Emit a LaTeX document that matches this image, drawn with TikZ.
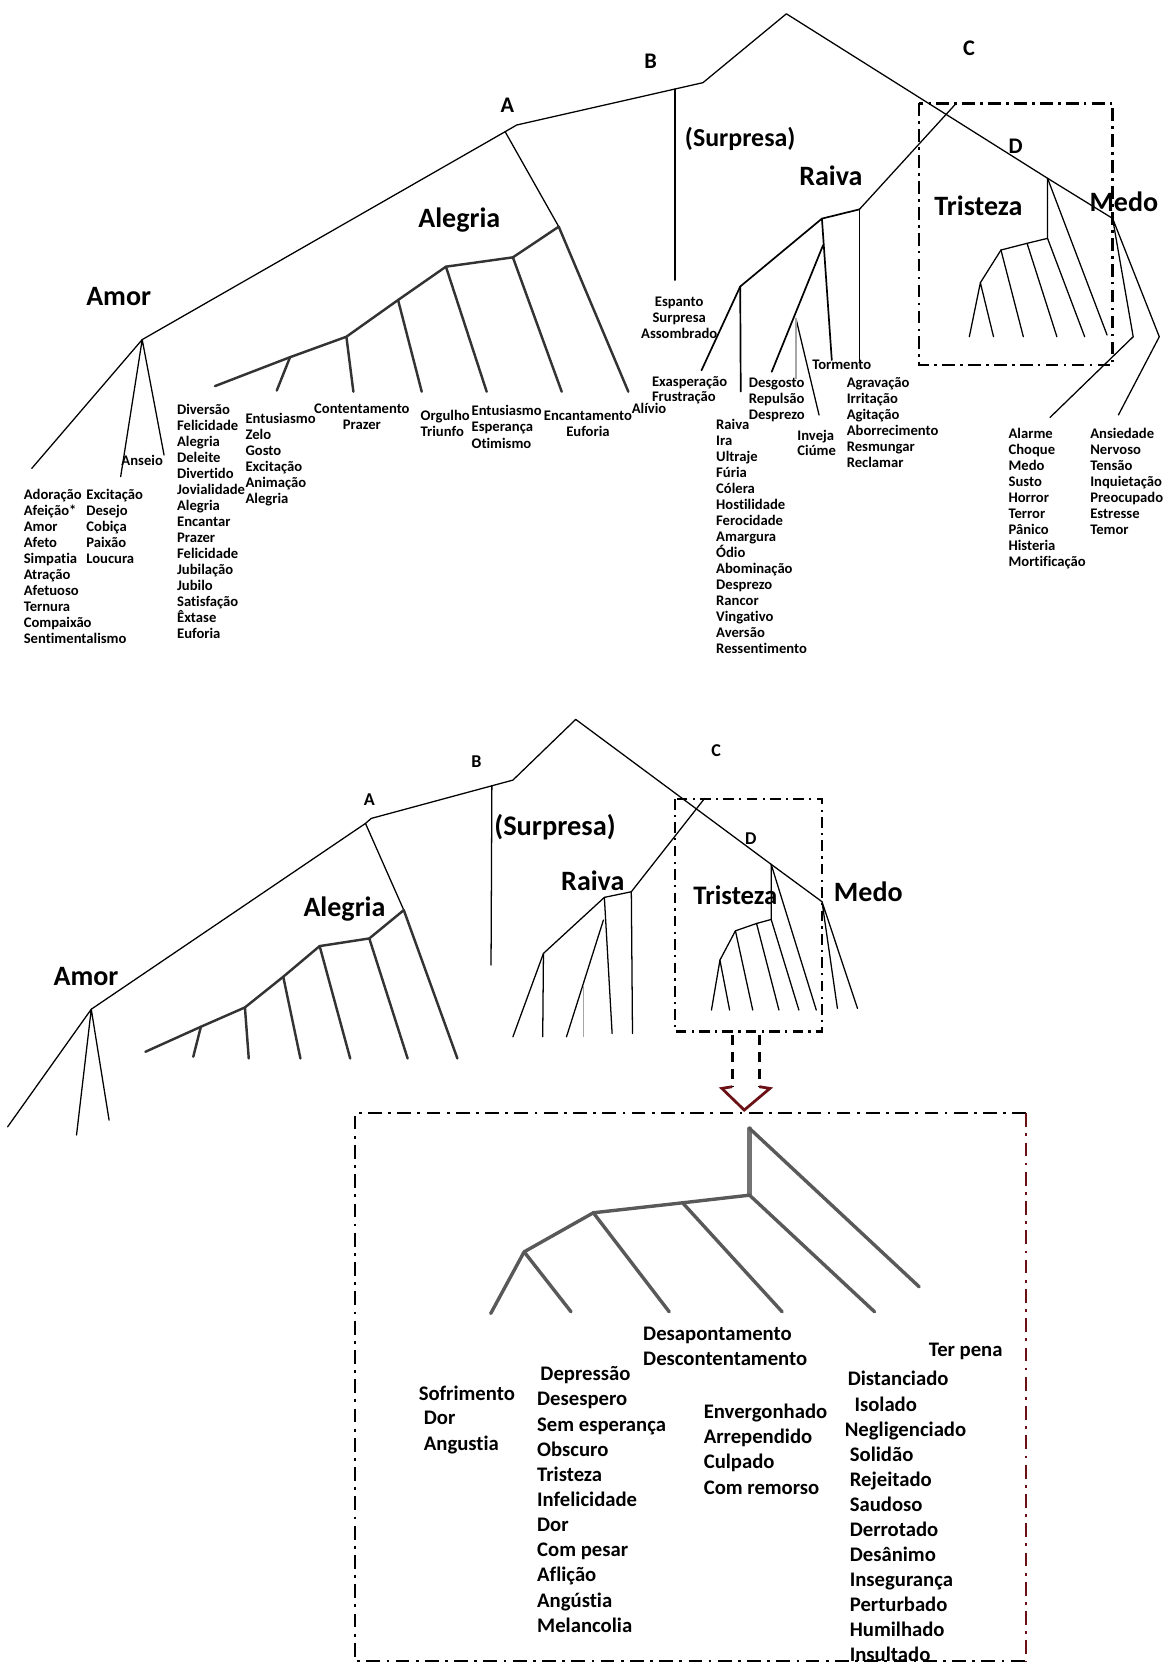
\documentclass[tikz,border=0pt]{standalone}
\usepackage{fontspec}
\setmainfont{Carlito}[Ligatures=NoCommon]
% a column of words, one node per line
\newcommand\wordcol[6]{%
  \foreach \w [count=\i from 0] in {#6}{%
    \node[anchor=base west,#1] (#2-\i) at (#3,{#4+\i*(#5)}) {\w};}}
\definecolor{darkmaroon}{HTML}{6B1014}
\begin{document}
\begin{tikzpicture}[x=0.5pt,y=-0.5pt,
  tree/.style={line width=0.6pt, line cap=round, line join=round},
  twig/.style={line width=1.15pt, black!80, line cap=round, line join=round},
  rtwig/.style={line width=0.8pt, line cap=round, line join=round},
  ghost/.style={line width=0.6pt, black!35},
  btwig/.style={line width=1.6pt, black!65, line cap=round, line join=round},
  frame/.style={line width=1.3pt, dash pattern=on 6pt off 2.5pt on 1.2pt off 2.5pt},
  sframe/.style={line width=1.3pt, dash pattern=on 5pt off 2.5pt on 1pt off 2.5pt},
  bframe/.style={line width=1.1pt, dash pattern=on 6.5pt off 3pt on 1.3pt off 3pt},
  lst/.style={font=\bfseries\fontsize{6.9}{8}\selectfont, inner sep=0pt},
  big/.style={font=\bfseries\fontsize{9.75}{11}\selectfont, inner sep=0pt},
  grp/.style={font=\bfseries\fontsize{13.2}{15}\selectfont, inner sep=0pt, anchor=base},
  ltr/.style={font=\bfseries\fontsize{10.5}{12}\selectfont, inner sep=0pt, anchor=base},
  sltr/.style={font=\bfseries\fontsize{8.5}{10}\selectfont, inner sep=0pt, anchor=base}]
\useasboundingbox[fill=white] (0,0) rectangle (1097,1568);

%% ================= upper tree =================
\coordinate (ta) at (741,13);
\coordinate (tb) at (662.4,77.9);
\coordinate (tbs) at (636,83.9);
\coordinate (tbe) at (636,264);
\coordinate (taa) at (486.9,117.8);
\coordinate (ta0) at (476,124.1);
\coordinate (tam) at (134,320);
\coordinate (ttri) at (987.1,168);
\coordinate (tmd) at (1048.4,205.8);
\draw[tree] (tam) -- (ta0) -- (taa) -- (tb) -- (ta) -- (ttri) -- (tmd);
\draw[tree] (tbs) -- (tbe);
% Amor
\coordinate (tam1) at (29.9,441.4);
\coordinate (tam2) at (113.7,449.2);
\coordinate (tam3) at (154.6,428.8);
\draw[tree] (tam) -- (tam1) (tam) -- (tam2) (tam) -- (tam3);
% Alegria
\coordinate (tal0) at (526.5,213.6);
\coordinate (tal1) at (483.3,242.5);
\coordinate (tal2) at (420.2,251.3);
\coordinate (tal3) at (375.1,282.7);
\coordinate (tal4) at (326.4,317.3);
\coordinate (tal5) at (273.3,336.6);
\coordinate (tal6) at (202.6,363.8);
\draw[tree] (ta0) -- (tal0);
\draw[twig] (tal0) -- (tal1) -- (tal2) -- (tal3) -- (tal4) -- (tal5) -- (tal6);
\coordinate (tle0) at (592.1,369.1);
\coordinate (tle1) at (529.3,369.1);
\coordinate (tle2) at (458.6,369.1);
\coordinate (tle3) at (397.4,369.1);
\coordinate (tle4) at (333,369.1);
\coordinate (tle5) at (260.8,368);
\foreach \k in {0,...,5} \draw[twig] (tal\k) -- (tle\k);
% Raiva
\coordinate (trt) at (901,97.4);
\coordinate (tr0) at (809.8,197.3);
\coordinate (tr1) at (774.5,206);
\coordinate (tr2) at (697.5,270);
\coordinate (tr1s) at (775.6,231);
\coordinate (tr3) at (750,300);
\coordinate (tre1) at (661,349);
\coordinate (tre2) at (698,369);
\coordinate (tre3) at (727.2,350.3);
\coordinate (tre4) at (771.8,391.1);
\coordinate (tre5) at (750,357);
\coordinate (tre6) at (783.8,339.3);
\coordinate (tre7) at (809.8,340.8);
\draw[tree] (trt) -- (tr0);
\draw[rtwig] (tr0) -- (tr1) -- (tr2) -- (tre1);
\draw[rtwig] (tr2) -- (tre2);
\draw[rtwig] (tr1) -- (tre6);
\draw[rtwig] (tr1s) -- (tre3);
\draw[tree] (tr3) -- (tre4);
\draw[ghost] (tr3) -- (tre5);
\draw[rtwig] (tr0) -- (tre7);
% Tristeza
\coordinate (ttr0) at (987.1,224.6);
\coordinate (ttr1) at (967.8,229.3);
\coordinate (ttr2) at (943.2,235.6);
\coordinate (ttr3) at (923.8,266.4);
\coordinate (tte0) at (1043.2,315.7);
\coordinate (tte1) at (1022.1,317.3);
\coordinate (tte2) at (995.9,317.3);
\coordinate (tte3) at (964.3,317.3);
\coordinate (tte4) at (936.2,317.3);
\coordinate (tte5) at (913.4,317.3);
\draw[tree] (ttri) -- (ttr0) -- (ttr1) -- (ttr2) -- (ttr3);
\draw[tree] (ttri) -- (tte0) (ttr0) -- (tte1) (ttr1) -- (tte2) (ttr2) -- (tte3) (ttr3) -- (tte4) (ttr3) -- (tte5);
% Medo
\coordinate (tme1) at (1067.8,317.3);
\coordinate (tme2) at (1092.4,317.3);
\coordinate (tmc1) at (989.5,393.3);
\coordinate (tmc2) at (1053.9,391);
\draw[tree] (tmd) -- (tme1) (tmd) -- (tme2);
\draw[tree] (tme1) -- (tmc1) (tme2) -- (tmc2);
% frame round Tristeza
\draw[frame] (866,97.4) rectangle (1048.4,344);

% group labels
\node[grp] (uAmor) at (111.8,287.6) {Amor};
\node[grp] (uAlegria) at (432.8,214.5) {Alegria};
\node[grp,font=\bfseries\fontsize{12.2}{14}\selectfont] (uSurpresa) at (697.5,138) {(Surpresa)};
\node[grp] (uRaiva) at (783,174.5) {Raiva};
\node[grp] (uTristeza) at (922,203) {Tristeza};
\node[grp] (uMedo) at (1059,199.5) {Medo};
\node[ltr] (uA) at (478,105.7) {A};
\node[ltr] (uB) at (613,64.5) {B};
\node[ltr] (uC) at (913,52) {C};
\node[ltr] (uD) at (957,145) {D};

% word lists
\wordcol{lst}{amA}{22}{470.5}{15.1}{Adoração,Afeição*,Amor,Afeto,Simpatia,Atração,Afetuoso,Ternura,Compaixão,Sentimentalismo}
\wordcol{lst}{amB}{81}{470.5}{15.1}{Excitação,Desejo,Cobiça,Paixão,Loucura}
\node[lst,anchor=base] (anseio) at (134,438.5) {Anseio};
\wordcol{lst}{alA}{166.5}{390.5}{15.08}{Diversão,Felicidade,Alegria,Deleite,Divertido,Jovialidade,Alegria,Encantar,Prazer,Felicidade,Jubilação,Jubilo,Satisfação,Êxtase,Euforia}
\wordcol{lst}{alB}{231}{399.5}{14.9}{Entusiasmo,Zelo,Gosto,Excitação,Animação,Alegria}
\wordcol{lst,anchor=base}{alC}{341}{389.5}{15}{Contentamento,Prazer}
\wordcol{lst}{alD}{396}{396.5}{15}{Orgulho,Triunfo}
\wordcol{lst}{alE}{444}{391.5}{15.5}{Entusiasmo,Esperança,Otimismo}
\wordcol{lst,anchor=base}{alF}{554}{396.5}{15}{Encantamento,Euforia}
\node[lst,anchor=base west] (alivio) at (595,389.5) {Alívio};
\wordcol{lst,anchor=base}{su}{640}{288.8}{15}{Espanto,Surpresa,Assombrado}
\wordcol{lst}{raA}{614}{364}{14.8}{Exasperação,Frustração}
\wordcol{lst}{raB}{674.5}{404.5}{15.08}{Raiva,Ira,Ultraje,Fúria,Cólera,Hostilidade,Ferocidade,Amargura,Ódio,Abominação,Desprezo,Rancor,Vingativo,Aversão,Ressentimento}
\wordcol{lst}{raC}{705.2}{364.8}{15.4}{Desgosto,Repulsão,Desprezo}
\wordcol{lst}{raD}{751}{415.4}{14}{Inveja,Ciúme}
\node[lst,anchor=base west] (tormento) at (765,348.5) {Tormento};
\wordcol{lst}{raF}{797.5}{365.5}{15}{Agravação,Irritação,Agitação,Aborrecimento,Resmungar,Reclamar}
\wordcol{lst}{meA}{950}{413.5}{15}{Alarme,Choque,Medo,Susto,Horror,Terror,Pânico,Histeria,Mortificação}
\wordcol{lst}{meB}{1027}{413.5}{15}{Ansiedade,Nervoso,Tensão,Inquietação,Preocupado,Estresse,Temor}

%% ================= lower tree =================
\coordinate (la) at (542.5,677.9);
\coordinate (lb) at (483.3,735.1);
\coordinate (lbs) at (463.5,740.2);
\coordinate (lbe) at (462.7,909.4);
\coordinate (laa) at (349.8,771.2);
\coordinate (la0) at (344.4,775.9);
\coordinate (lam) at (86,951);
\coordinate (ltri) at (726.7,814.5);
\coordinate (lmd) at (774.6,849.7);
\draw[tree] (lam) -- (la0) -- (laa) -- (lb) -- (la) -- (ltri) -- (lmd);
\draw[tree] (lbs) -- (lbe);
% Amor
\coordinate (lam1) at (7.2,1061.8);
\coordinate (lam2) at (72.1,1069.6);
\coordinate (lam3) at (102.8,1055.5);
\draw[tree] (lam) -- (lam1) (lam) -- (lam2) (lam) -- (lam3);
% Alegria
\coordinate (lal0) at (380.5,857.6);
\coordinate (lal1) at (348,884.3);
\coordinate (lal2) at (301.2,891.5);
\coordinate (lal3) at (266.9,920.4);
\coordinate (lal4) at (230.8,949.3);
\coordinate (lal5) at (189.3,967.5);
\coordinate (lal6) at (137,991.1);
\draw[tree] (la0) -- (lal0);
\draw[twig] (lal0) -- (lal1) -- (lal2) -- (lal3) -- (lal4) -- (lal5) -- (lal6);
\coordinate (lle0) at (431,997.4);
\coordinate (lle1) at (384.1,997.4);
\coordinate (lle2) at (330,997.4);
\coordinate (lle3) at (283.1,997.4);
\coordinate (lle4) at (234.4,997.4);
\coordinate (lle5) at (182.1,995.8);
\foreach \k in {0,...,5} \draw[twig] (lal\k) -- (lle\k);
% Raiva
\coordinate (lrt) at (663.9,752.4);
\coordinate (lr0) at (594.9,840.3);
\coordinate (lr1) at (569.5,845.6);
\coordinate (lr2) at (512.1,898.4);
\coordinate (lr1s) at (568.6,867);
\coordinate (lr3) at (549.5,928);
\coordinate (lre1) at (483.3,977);
\coordinate (lre2) at (511.4,977);
\coordinate (lre3) at (533.8,977);
\coordinate (lre4) at (549.5,977);
\coordinate (lre5) at (576.8,973.8);
\coordinate (lre6) at (596,973.8);
\draw[tree] (lrt) -- (lr0) -- (lr1) -- (lr2) -- (lre1);
\draw[tree] (lr2) -- (lre2) (lr1) -- (lre5) (lr1s) -- (lre3) (lr0) -- (lre6);
\draw[ghost] (lr3) -- (lre4);
% Tristeza
\coordinate (ltr0) at (726.7,866.4);
\coordinate (ltr1) at (712.9,870.2);
\coordinate (ltr2) at (693,877.1);
\coordinate (ltr3) at (678.4,904.7);
\coordinate (lte0) at (769.2,951.8);
\coordinate (lte1) at (752.8,951.8);
\coordinate (lte2) at (734,951.8);
\coordinate (lte3) at (709.3,951.8);
\coordinate (lte4) at (687.5,951.8);
\coordinate (lte5) at (670.4,951.8);
\draw[tree] (ltri) -- (ltr0) -- (ltr1) -- (ltr2) -- (ltr3);
\draw[tree] (ltri) -- (lte0) (ltr0) -- (lte1) (ltr1) -- (lte2) (ltr2) -- (lte3) (ltr3) -- (lte4) (ltr3) -- (lte5);
% Medo
\coordinate (lme1) at (789.1,950.2);
\coordinate (lme2) at (808,950.2);
\draw[tree] (lmd) -- (lme1) (lmd) -- (lme2);
% frame round Tristeza
\draw[sframe] (636,753) rectangle (774.6,972.2);

\node[grp] (dAmor) at (81.1,928.4) {Amor};
\node[grp] (dAlegria) at (324.6,863.5) {Alegria};
\node[grp,font=\bfseries\fontsize{13.4}{15}\selectfont] (dSurpresa) at (523,787) {(Surpresa)};
\node[grp] (dRaiva) at (558.6,838.7) {Raiva};
\node[grp,font=\bfseries\fontsize{12.6}{15}\selectfont] (dTristeza) at (693,852.6) {Tristeza};
\node[grp] (dMedo) at (818.2,849.7) {Medo};
\node[sltr] (dA) at (348,759) {A};
\node[sltr] (dB) at (449,723) {B};
\node[sltr] (dC) at (674.8,712.5) {C};
\node[sltr] (dD) at (707.5,796) {D};

%% ================= enlarged Tristeza =================
% arrow from the small frame to the large one
\coordinate (ar1) at (690,975);
\coordinate (ar2) at (715.5,975);
\coordinate (ar3) at (690,1024);
\coordinate (ar4) at (715.5,1024);
\coordinate (ar5) at (680.2,1025.6);
\coordinate (ar6) at (725.5,1025.6);
\coordinate (artip) at (701.3,1046);
\draw[line width=1.3pt, dash pattern=on 5pt off 3pt] (ar1) -- (ar3) (ar2) -- (ar4);
\draw[line width=1.3pt, darkmaroon, line join=miter] (ar3) -- (ar5) -- (artip) -- (ar6) -- (ar4);

% large frame
\coordinate (bf1) at (334.5,1049);
\coordinate (bf2) at (967,1049);
\coordinate (bf3) at (967,1565);
\coordinate (bf4) at (334.5,1565);
\draw[bframe] (bf2) -- (bf1) -- (bf4) -- (bf3);
\draw[bframe, darkmaroon] (bf2) -- (bf3);

% enlarged subtree
\coordinate (bt) at (706.3,1063.3);
\coordinate (b0) at (706.3,1126.2);
\coordinate (b1) at (643.2,1133.4);
\coordinate (b2) at (559.1,1142.8);
\coordinate (b3) at (493.9,1179.6);
\coordinate (be0) at (866.2,1212.6);
\coordinate (be1) at (824.1,1236.1);
\coordinate (be2) at (737,1236.1);
\coordinate (be3) at (630.6,1236.1);
\coordinate (be4) at (538.1,1236.1);
\coordinate (be5) at (462.4,1237.7);
\draw[btwig, line width=2pt, black!55] (bt) -- (b0);
\draw[btwig] (b0) -- (b1) -- (b2) -- (b3);
\draw[btwig] (bt) -- (be0) (b0) -- (be1) (b1) -- (be2) (b2) -- (be3) (b3) -- (be4) (b3) -- (be5);

\wordcol{big}{tA}{605.7}{1262.9}{23.6}{Desapontamento,Descontentamento}
\node[big,anchor=base west] (tB) at (508.9,1300.6) {Depressão};
\wordcol{big}{tC}{505.8}{1324.8}{23.7}{Desespero,Sem esperança,Obscuro,Tristeza,Infelicidade,Dor,Com pesar,Aflição,Angústia,Melancolia}
\node[big,anchor=base west] (tD0) at (394.2,1319.4) {Sofrimento};
\node[big,anchor=base west] (tD1) at (399,1342.1) {Dor};
\node[big,anchor=base west] (tD2) at (399,1366.6) {Angustia};
\wordcol{big}{tE}{662.8}{1336.8}{23.7}{Envergonhado,Arrependido,Culpado,Com remorso}
\node[big,anchor=base west] (tF) at (874.8,1278.6) {Ter pena};
\node[big,anchor=base west] (tG0) at (798.5,1306) {Distanciado};
\node[big,anchor=base west] (tG1) at (804.8,1329.8) {Isolado};
\node[big,anchor=base west] (tG2) at (795.7,1353.4) {Negligenciado};
\wordcol{big}{tH}{800.4}{1377}{23.6}{Solidão,Rejeitado,Saudoso,Derrotado,Desânimo,Insegurança,Perturbado,Humilhado,Insultado}
\end{tikzpicture}
\end{document}
